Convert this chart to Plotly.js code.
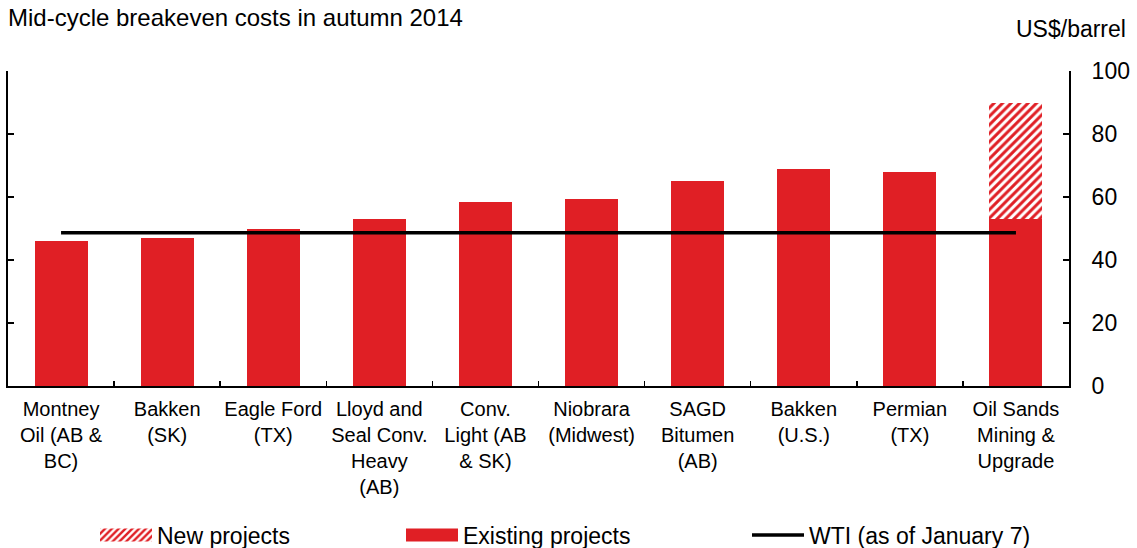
<!DOCTYPE html>
<html>
<head>
<meta charset="utf-8">
<script src="https://cdn.plot.ly/plotly-3.0.1.min.js"></script>
<style>html,body{margin:0;padding:0;background:#fff;}#chart{width:1137px;height:548px;}</style>
</head>
<body>
<div id="chart"></div>
<script>
// ---- data ----
var categories = ["Montney Oil (AB & BC)", "Bakken (SK)", "Eagle Ford (TX)", "Lloyd and Seal Conv. Heavy (AB)",
  "Conv. Light (AB & SK)", "Niobrara (Midwest)", "SAGD Bitumen (AB)", "Bakken (U.S.)", "Permian (TX)",
  "Oil Sands Mining & Upgrade"];
var tickLabels = ["Montney<br>Oil (AB &<br>BC)", "Bakken<br>(SK)", "Eagle Ford<br>(TX)", "Lloyd and<br>Seal Conv.<br>Heavy<br>(AB)",
  "Conv.<br>Light (AB<br>& SK)", "Niobrara<br>(Midwest)", "SAGD<br>Bitumen<br>(AB)", "Bakken<br>(U.S.)", "Permian<br>(TX)",
  "Oil Sands<br>Mining &<br>Upgrade"];
var existingProjects = [46.0, 47.0, 49.8, 52.9, 58.4, 59.5, 65.0, 69.0, 67.9, 52.9];
var newProjects = [null, null, null, null, null, null, null, null, null, 37.1];
var wtiX = ["Montney Oil (AB & BC)", "Oil Sands Mining & Upgrade"];
var wtiY = [48.65, 48.65];
var yTicks = [0, 20, 40, 60, 80, 100];

var RED = '#E01F25';
var FONT = 'Arial, "Liberation Sans", sans-serif';

var traces = [
  {type: 'bar', name: 'Existing projects', x: categories, y: existingProjects,
   marker: {color: RED, line: {width: 0}}, legend: 'legend2', hoverinfo: 'y'},
  {type: 'bar', name: 'New projects', x: categories, y: newProjects,
   marker: {color: '#ffffff', line: {width: 0},
     pattern: {shape: '/', fgcolor: RED, bgcolor: '#ffffff', size: 6, solidity: 0.5}},
   legend: 'legend', hoverinfo: 'y'},
  {type: 'scatter', mode: 'lines', name: 'WTI (as of January 7)', x: wtiX, y: wtiY,
   line: {color: '#000000', width: 3.5}, legend: 'legend3', hoverinfo: 'y'}
];

var legendBase = {orientation: 'h', yanchor: 'middle', xanchor: 'left', y: -0.473,
  font: {family: FONT, size: 23, color: '#000'}, bgcolor: 'rgba(0,0,0,0)', borderwidth: 0, itemwidth: 52};

var layout = {
  width: 1137, height: 548,
  margin: {l: 8, r: 68, t: 71, b: 162, autoexpand: false},
  paper_bgcolor: '#fff', plot_bgcolor: '#fff',
  font: {family: FONT, color: '#000'},
  barmode: 'stack', bargap: 0.5,
  showlegend: true,
  title: {text: 'Mid-cycle breakeven costs in autumn 2014', xref: 'container', yref: 'container',
    x: 8 / 1137, xanchor: 'left', y: 1 - 18 / 548, yanchor: 'middle',
    font: {family: FONT, size: 24, color: '#000'}},
  xaxis: {type: 'category', categoryorder: 'array', categoryarray: categories,
    tickvals: categories, ticktext: tickLabels, range: [-0.5, 9.5], tickangle: 0, automargin: false,
    showline: true, linecolor: '#000', linewidth: 2, ticks: 'inside', tickson: 'boundaries',
    ticklen: 5, tickwidth: 1.5, tickcolor: '#000', showgrid: false, zeroline: false, ticklabelstandoff: 4,
    tickfont: {family: FONT, size: 20, color: '#000'}, fixedrange: true},
  yaxis: {side: 'right', range: [0, 100], tickvals: yTicks, showline: true, mirror: 'ticks', automargin: false,
    linecolor: '#000', linewidth: 2, ticks: 'inside', ticklen: 6, tickwidth: 2, tickcolor: '#000',
    showgrid: false, zeroline: false, ticklabelstandoff: 16,
    tickfont: {family: FONT, size: 23, color: '#000'}, fixedrange: true},
  legend: Object.assign({}, legendBase, {x: (95 - 8) / 1061}),
  legend2: Object.assign({}, legendBase, {x: (401 - 8) / 1061}),
  legend3: Object.assign({}, legendBase, {x: (747 - 8) / 1061}),
  annotations: [{text: 'US$/barrel', xref: 'paper', yref: 'paper', x: (1128 - 8) / 1061, xanchor: 'right',
    y: (386 - 29) / 315, yanchor: 'middle', showarrow: false,
    font: {family: FONT, size: 23, color: '#000'}}]
};

Plotly.newPlot('chart', traces, layout, {displayModeBar: false, staticPlot: true}).then(function () {
  var paths = document.querySelectorAll('g.legendpoints path');
  paths.forEach(function (p) {
    if (p.getAttribute('d') === 'M6,6H-6V-6H6Z') p.setAttribute('d', 'M26,6.5H-26V-6.5H26Z');
  });
});
</script>
</body>
</html>
